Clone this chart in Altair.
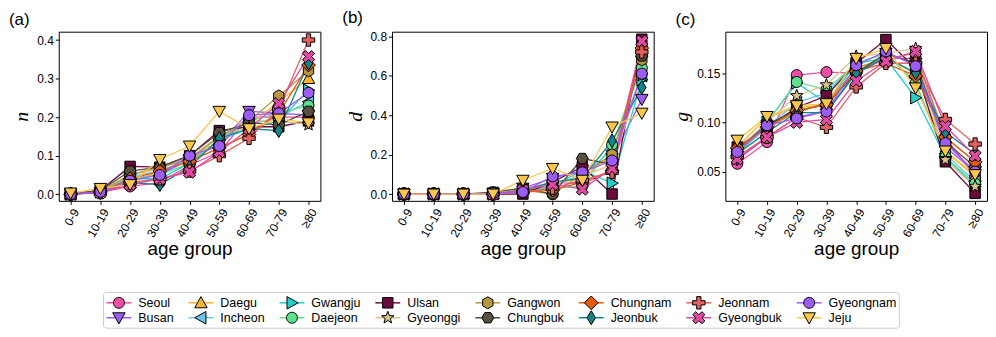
import math
import altair as alt
import pandas as pd

# ---------------- data ----------------
AGE_GROUPS = ["0-9", "10-19", "20-29", "30-39", "40-49", "50-59", "60-69", "70-79", "≥80"]

REGIONS = ["Seoul", "Busan", "Daegu", "Incheon", "Gwangju", "Daejeon", "Ulsan", "Gyeonggi",
           "Gangwon", "Chungbuk", "Chungnam", "Jeonbuk", "Jeonnam", "Gyeongbuk", "Gyeongnam", "Jeju"]

COLORS = ["#EE4FA6", "#9C5CF2", "#F7B731", "#6CC4EE", "#23CFC9", "#5EE08D", "#6A0B3B", "#D8C38E",
          "#B7983F", "#57503F", "#E65A0E", "#10868C", "#E2605F", "#E04AA5", "#9B5DF5", "#FAC64C"]

N_VALUES = {
    "Seoul":     [0.000, 0.005, 0.020, 0.030, 0.075, 0.110, 0.200, 0.200, 0.200],
    "Busan":     [0.000, 0.005, 0.040, 0.050, 0.090, 0.130, 0.215, 0.210, 0.205],
    "Daegu":     [0.000, 0.010, 0.030, 0.060, 0.090, 0.140, 0.180, 0.240, 0.300],
    "Incheon":   [0.000, 0.008, 0.045, 0.060, 0.090, 0.150, 0.180, 0.200, 0.240],
    "Gwangju":   [0.000, 0.006, 0.040, 0.040, 0.080, 0.140, 0.170, 0.190, 0.270],
    "Daejeon":   [0.000, 0.008, 0.040, 0.050, 0.080, 0.140, 0.190, 0.210, 0.230],
    "Ulsan":     [0.000, 0.010, 0.072, 0.070, 0.100, 0.165, 0.175, 0.175, 0.190],
    "Gyeonggi":  [0.000, 0.008, 0.050, 0.065, 0.095, 0.150, 0.190, 0.190, 0.180],
    "Gangwon":   [0.000, 0.008, 0.050, 0.070, 0.090, 0.150, 0.190, 0.255, 0.320],
    "Chungbuk":  [0.000, 0.010, 0.060, 0.070, 0.100, 0.160, 0.185, 0.180, 0.215],
    "Chungnam":  [0.000, 0.006, 0.040, 0.060, 0.085, 0.120, 0.155, 0.210, 0.335],
    "Jeonbuk":   [0.000, 0.004, 0.030, 0.025, 0.070, 0.145, 0.170, 0.165, 0.340],
    "Jeonnam":   [0.000, 0.004, 0.030, 0.040, 0.060, 0.100, 0.145, 0.220, 0.400],
    "Gyeongbuk": [0.000, 0.004, 0.025, 0.040, 0.057, 0.110, 0.170, 0.235, 0.357],
    "Gyeongnam": [0.000, 0.006, 0.035, 0.050, 0.100, 0.125, 0.205, 0.210, 0.263],
    "Jeju":      [0.003, 0.015, 0.025, 0.090, 0.125, 0.215, 0.170, 0.195, 0.185],
}

D_VALUES = {
    "Seoul":     [0.0, 0.0, 0.0, 0.005, 0.02, 0.06, 0.05, 0.12, 0.75],
    "Busan":     [0.0, 0.0, 0.0, 0.005, 0.03, 0.08, 0.12, 0.18, 0.48],
    "Daegu":     [0.0, 0.0, 0.0, 0.0, 0.03, 0.05, 0.08, 0.20, 0.72],
    "Incheon":   [0.0, 0.0, 0.0, 0.005, 0.02, 0.04, 0.10, 0.22, 0.60],
    "Gwangju":   [0.0, 0.0, 0.0, 0.0, 0.01, 0.04, 0.12, 0.055, 0.58],
    "Daejeon":   [0.0, 0.0, 0.0, 0.0, 0.02, 0.03, 0.04, 0.25, 0.64],
    "Ulsan":     [0.0, 0.0, 0.0, 0.0, 0.0, 0.06, 0.14, 0.0, 0.785],
    "Gyeonggi":  [0.0, 0.0, 0.0, 0.005, 0.03, 0.05, 0.09, 0.15, 0.60],
    "Gangwon":   [0.0, 0.0, 0.0, 0.0, 0.02, 0.0, 0.10, 0.20, 0.68],
    "Chungbuk":  [0.0, 0.0, 0.0, 0.01, 0.03, 0.0, 0.18, 0.15, 0.70],
    "Chungnam":  [0.0, 0.0, 0.0, 0.0, 0.01, 0.02, 0.06, 0.12, 0.74],
    "Jeonbuk":   [0.0, 0.0, 0.0, 0.0, 0.02, 0.06, 0.08, 0.27, 0.54],
    "Jeonnam":   [0.0, 0.0, 0.0, 0.0, 0.01, 0.03, 0.07, 0.11, 0.72],
    "Gyeongbuk": [0.0, 0.0, 0.0, 0.0, 0.02, 0.05, 0.025, 0.13, 0.775],
    "Gyeongnam": [0.0, 0.0, 0.0, 0.005, 0.01, 0.09, 0.11, 0.17, 0.61],
    "Jeju":      [0.0, 0.0, 0.0, 0.0, 0.07, 0.13, 0.07, 0.34, 0.41],
}

G_VALUES = {
    "Seoul":     [0.058, 0.080, 0.148, 0.151, 0.150, 0.165, 0.165, 0.085, 0.045],
    "Busan":     [0.062, 0.085, 0.105, 0.112, 0.150, 0.170, 0.160, 0.075, 0.050],
    "Daegu":     [0.075, 0.105, 0.115, 0.118, 0.155, 0.165, 0.150, 0.070, 0.045],
    "Incheon":   [0.068, 0.095, 0.120, 0.130, 0.160, 0.170, 0.140, 0.068, 0.040],
    "Gwangju":   [0.070, 0.100, 0.140, 0.120, 0.160, 0.165, 0.125, 0.065, 0.035],
    "Daejeon":   [0.068, 0.100, 0.141, 0.133, 0.160, 0.170, 0.140, 0.065, 0.038],
    "Ulsan":     [0.075, 0.095, 0.115, 0.127, 0.160, 0.184, 0.155, 0.060, 0.028],
    "Gyeonggi":  [0.072, 0.100, 0.127, 0.138, 0.167, 0.170, 0.175, 0.062, 0.035],
    "Gangwon":   [0.070, 0.095, 0.110, 0.120, 0.155, 0.165, 0.170, 0.085, 0.060],
    "Chungbuk":  [0.072, 0.098, 0.112, 0.118, 0.150, 0.170, 0.160, 0.080, 0.055],
    "Chungnam":  [0.074, 0.095, 0.112, 0.118, 0.152, 0.160, 0.147, 0.085, 0.060],
    "Jeonbuk":   [0.068, 0.090, 0.110, 0.110, 0.150, 0.166, 0.150, 0.090, 0.068],
    "Jeonnam":   [0.065, 0.085, 0.105, 0.095, 0.136, 0.160, 0.160, 0.103, 0.078],
    "Gyeongbuk": [0.063, 0.085, 0.100, 0.103, 0.142, 0.162, 0.172, 0.096, 0.066],
    "Gyeongnam": [0.070, 0.097, 0.104, 0.111, 0.158, 0.172, 0.157, 0.079, 0.050],
    "Jeju":      [0.082, 0.106, 0.117, 0.119, 0.165, 0.175, 0.135, 0.071, 0.047],
}

N_TICKS = [0.0, 0.1, 0.2, 0.3, 0.4]
D_TICKS = [0.0, 0.2, 0.4, 0.6, 0.8]
G_TICKS = [0.05, 0.10, 0.15]

# ---------------- marker shapes (unit box, scaled by sqrt(size)/2) ----------------
def poly(points):
    return "M" + "L".join(f"{x:.3f},{y:.3f}" for x, y in points) + "Z"

def regular(n, r, start_deg):
    return poly([(r * math.cos(math.radians(start_deg + 360 * k / n)),
                  r * math.sin(math.radians(start_deg + 360 * k / n))) for k in range(n)])

def star(ro, ri):
    pts = []
    for k in range(10):
        r = ro if k % 2 == 0 else ri
        a = math.radians(-90 + 36 * k)
        pts.append((r * math.cos(a), r * math.sin(a)))
    return poly(pts)

def plus(rot_deg, a=0.5, w=0.17):
    base = [(-w, -a), (w, -a), (w, -w), (a, -w), (a, w), (w, w), (w, a), (-w, a),
            (-w, w), (-a, w), (-a, -w), (-w, -w)]
    t = math.radians(rot_deg)
    return poly([(x * math.cos(t) - y * math.sin(t), x * math.sin(t) + y * math.cos(t)) for x, y in base])

CIRCLE = regular(24, 0.44, 0)
SHAPES = {
    "Seoul": CIRCLE,
    "Busan": poly([(-0.5, -0.4), (0.5, -0.4), (0, 0.5)]),
    "Daegu": poly([(0, -0.5), (0.5, 0.4), (-0.5, 0.4)]),
    "Incheon": poly([(-0.5, 0), (0.4, -0.5), (0.4, 0.5)]),
    "Gwangju": poly([(0.5, 0), (-0.4, -0.5), (-0.4, 0.5)]),
    "Daejeon": CIRCLE,
    "Ulsan": poly([(-0.42, -0.42), (0.42, -0.42), (0.42, 0.42), (-0.42, 0.42)]),
    "Gyeonggi": star(0.52, 0.22),
    "Gangwon": regular(6, 0.48, -90),
    "Chungbuk": regular(6, 0.48, 0),
    "Chungnam": poly([(0, -0.55), (0.55, 0), (0, 0.55), (-0.55, 0)]),
    "Jeonbuk": poly([(0, -0.56), (0.34, 0), (0, 0.56), (-0.34, 0)]),
    "Jeonnam": plus(0),
    "Gyeongbuk": plus(45, a=0.52, w=0.17),
    "Gyeongnam": CIRCLE,
    "Jeju": poly([(-0.5, -0.4), (0.5, -0.4), (0, 0.5)]),
}
SHAPE_RANGE = [SHAPES[r] for r in REGIONS]

FONT = "Liberation Sans"
MARK_SIZE = 625
PLOT_W, PLOT_H = 263, 170

COLOR_SCALE = alt.Scale(domain=REGIONS, range=COLORS)
SHAPE_SCALE = alt.Scale(domain=REGIONS, range=SHAPE_RANGE)


def frame(values):
    rows = []
    for r in REGIONS:
        for a, v in zip(AGE_GROUPS, values[r]):
            rows.append({"region": r, "age": a, "value": v})
    return pd.DataFrame(rows)


def panel(values, letter, ylabel, domain, ticks, fmt):
    df = frame(values)
    x = alt.X("age:N", scale=alt.Scale(type="point", domain=AGE_GROUPS, padding=0.4),
              axis=alt.Axis(title="age group", labelAngle=-60, labelAlign="right",
                            labelBaseline="middle", labelPadding=5, labelOffset=5,
                            labelOverlap=False, labelFlush=False,
                            titleFontSize=19, titlePadding=1))
    y = alt.Y("value:Q", scale=alt.Scale(domain=domain, nice=False, zero=False),
              axis=alt.Axis(values=ticks, format=fmt, title=ylabel,
                            titleFont="Liberation Serif", titleFontStyle="italic",
                            titleFontSize=20, titlePadding=5, labelPadding=2))
    line = alt.Chart(df).mark_line(strokeWidth=1.3).encode(
        x=x, y=y,
        color=alt.Color("region:N", scale=COLOR_SCALE, legend=None),
    )
    pts = alt.Chart(df).mark_point(filled=True, size=MARK_SIZE, stroke="black", strokeWidth=1,
                                   opacity=1).encode(
        x=x, y=y,
        fill=alt.Fill("region:N", scale=COLOR_SCALE, legend=None),
        shape=alt.Shape("region:N", scale=SHAPE_SCALE, legend=None),
    )
    return alt.layer(line, pts).properties(
        width=PLOT_W, height=PLOT_H,
        title=alt.TitleParams(letter, anchor="start", frame="group", dx=-50, fontSize=17,
                              font=FONT, fontWeight="normal", color="black", offset=3),
    )


pa = panel(N_VALUES, "(a)", "n", [-0.0173, 0.4216], N_TICKS, ".1f")
pb = panel(D_VALUES, "(b)", "d", [-0.0345, 0.823], D_TICKS, ".1f")
pc = panel(G_VALUES, "(c)", "g", [0.0204, 0.192], G_TICKS, ".2f")

# ---------------- legend (2 rows x 8 columns, filled column by column) ----------------
LEG_FONT_SIZE = 12.5
CHAR_W = {  # Arial / Liberation Sans advance widths (em)
    "S": .667, "B": .667, "D": .722, "I": .278, "G": .778, "U": .722, "C": .722, "J": .5,
    "a": .556, "b": .556, "c": .5, "d": .556, "e": .556, "g": .556, "h": .556, "i": .222,
    "j": .222, "k": .5, "l": .222, "m": .833, "n": .556, "o": .556, "p": .556, "r": .333,
    "s": .5, "u": .556, "w": .722, "y": .5,
}
LEG_LEFT, LEG_PAD, HANDLE, LABEL_GAP, COL_GAP, ROW_H = 45, 3, 25, 7, 15, 15


def text_width(s):
    return sum(CHAR_W.get(c, .556) for c in s) * LEG_FONT_SIZE


leg_rows = []
x_cursor = LEG_LEFT + LEG_PAD
n_cols = len(REGIONS) // 2
for col in range(n_cols):
    members = REGIONS[2 * col: 2 * col + 2]
    for row, r in enumerate(members):
        leg_rows.append({"region": r, "x0": x_cursor, "x1": x_cursor + HANDLE,
                         "xm": x_cursor + HANDLE / 2, "xt": x_cursor + HANDLE + LABEL_GAP,
                         "y": LEG_PAD + ROW_H * (row + 0.5)})
    x_cursor += HANDLE + LABEL_GAP + max(text_width(m) for m in members) + COL_GAP
leg_right = x_cursor - COL_GAP + LEG_PAD
leg_df = pd.DataFrame(leg_rows)
LEG_W = int(math.ceil(leg_right)) + 2
LEG_H = LEG_PAD * 2 + ROW_H * 2
box_df = pd.DataFrame([{"bx0": LEG_LEFT, "bx1": leg_right, "by0": 0, "by1": LEG_H}])

lx = alt.Scale(domain=[0, LEG_W], nice=False, zero=False)
ly = alt.Scale(domain=[LEG_H, 0], nice=False, zero=False)

box = alt.Chart(box_df).mark_rect(fill="white", stroke="#cccccc", strokeWidth=1,
                                  cornerRadius=3).encode(
    x=alt.X("bx0:Q", scale=lx, axis=None), x2="bx1:Q",
    y=alt.Y("by0:Q", scale=ly, axis=None), y2="by1:Q",
)
handle_line = alt.Chart(leg_df).mark_rule(strokeWidth=1.5).encode(
    x=alt.X("x0:Q", scale=lx, axis=None), x2="x1:Q",
    y=alt.Y("y:Q", scale=ly, axis=None),
    color=alt.Color("region:N", scale=COLOR_SCALE, legend=None),
)
handle_mark = alt.Chart(leg_df).mark_point(filled=True, size=MARK_SIZE, stroke="black",
                                           strokeWidth=1, opacity=1).encode(
    x=alt.X("xm:Q", scale=lx, axis=None),
    y=alt.Y("y:Q", scale=ly, axis=None),
    fill=alt.Fill("region:N", scale=COLOR_SCALE, legend=None),
    shape=alt.Shape("region:N", scale=SHAPE_SCALE, legend=None),
)
labels = alt.Chart(leg_df).mark_text(align="left", baseline="middle", font=FONT,
                                     fontSize=LEG_FONT_SIZE, color="black").encode(
    x=alt.X("xt:Q", scale=lx, axis=None),
    y=alt.Y("y:Q", scale=ly, axis=None),
    text="region:N",
)
legend_chart = alt.layer(box, handle_line, handle_mark, labels).properties(
    width=LEG_W, height=LEG_H, view=alt.ViewBackground(stroke="transparent", strokeWidth=0)
)

top = alt.hconcat(pa, pb, pc, spacing=72, bounds="flush")
# with flush bounds the nested row counts as zero height, so the gap spans the plot height too
chart = alt.vconcat(top, legend_chart, spacing=PLOT_H + 92, bounds="flush").properties(
    padding={"left": 0, "top": 0, "right": 0, "bottom": 0}
).configure_view(
    stroke="black", strokeWidth=1
).configure_axis(
    labelFont=FONT, labelFontSize=12, labelColor="black",
    tickColor="black", tickSize=3.5, tickWidth=1,
    domain=False, grid=False,
    titleFont=FONT, titleFontWeight="normal", titleColor="black",
)

chart.save("out.html", embed_options={"renderer": "svg", "actions": False})
